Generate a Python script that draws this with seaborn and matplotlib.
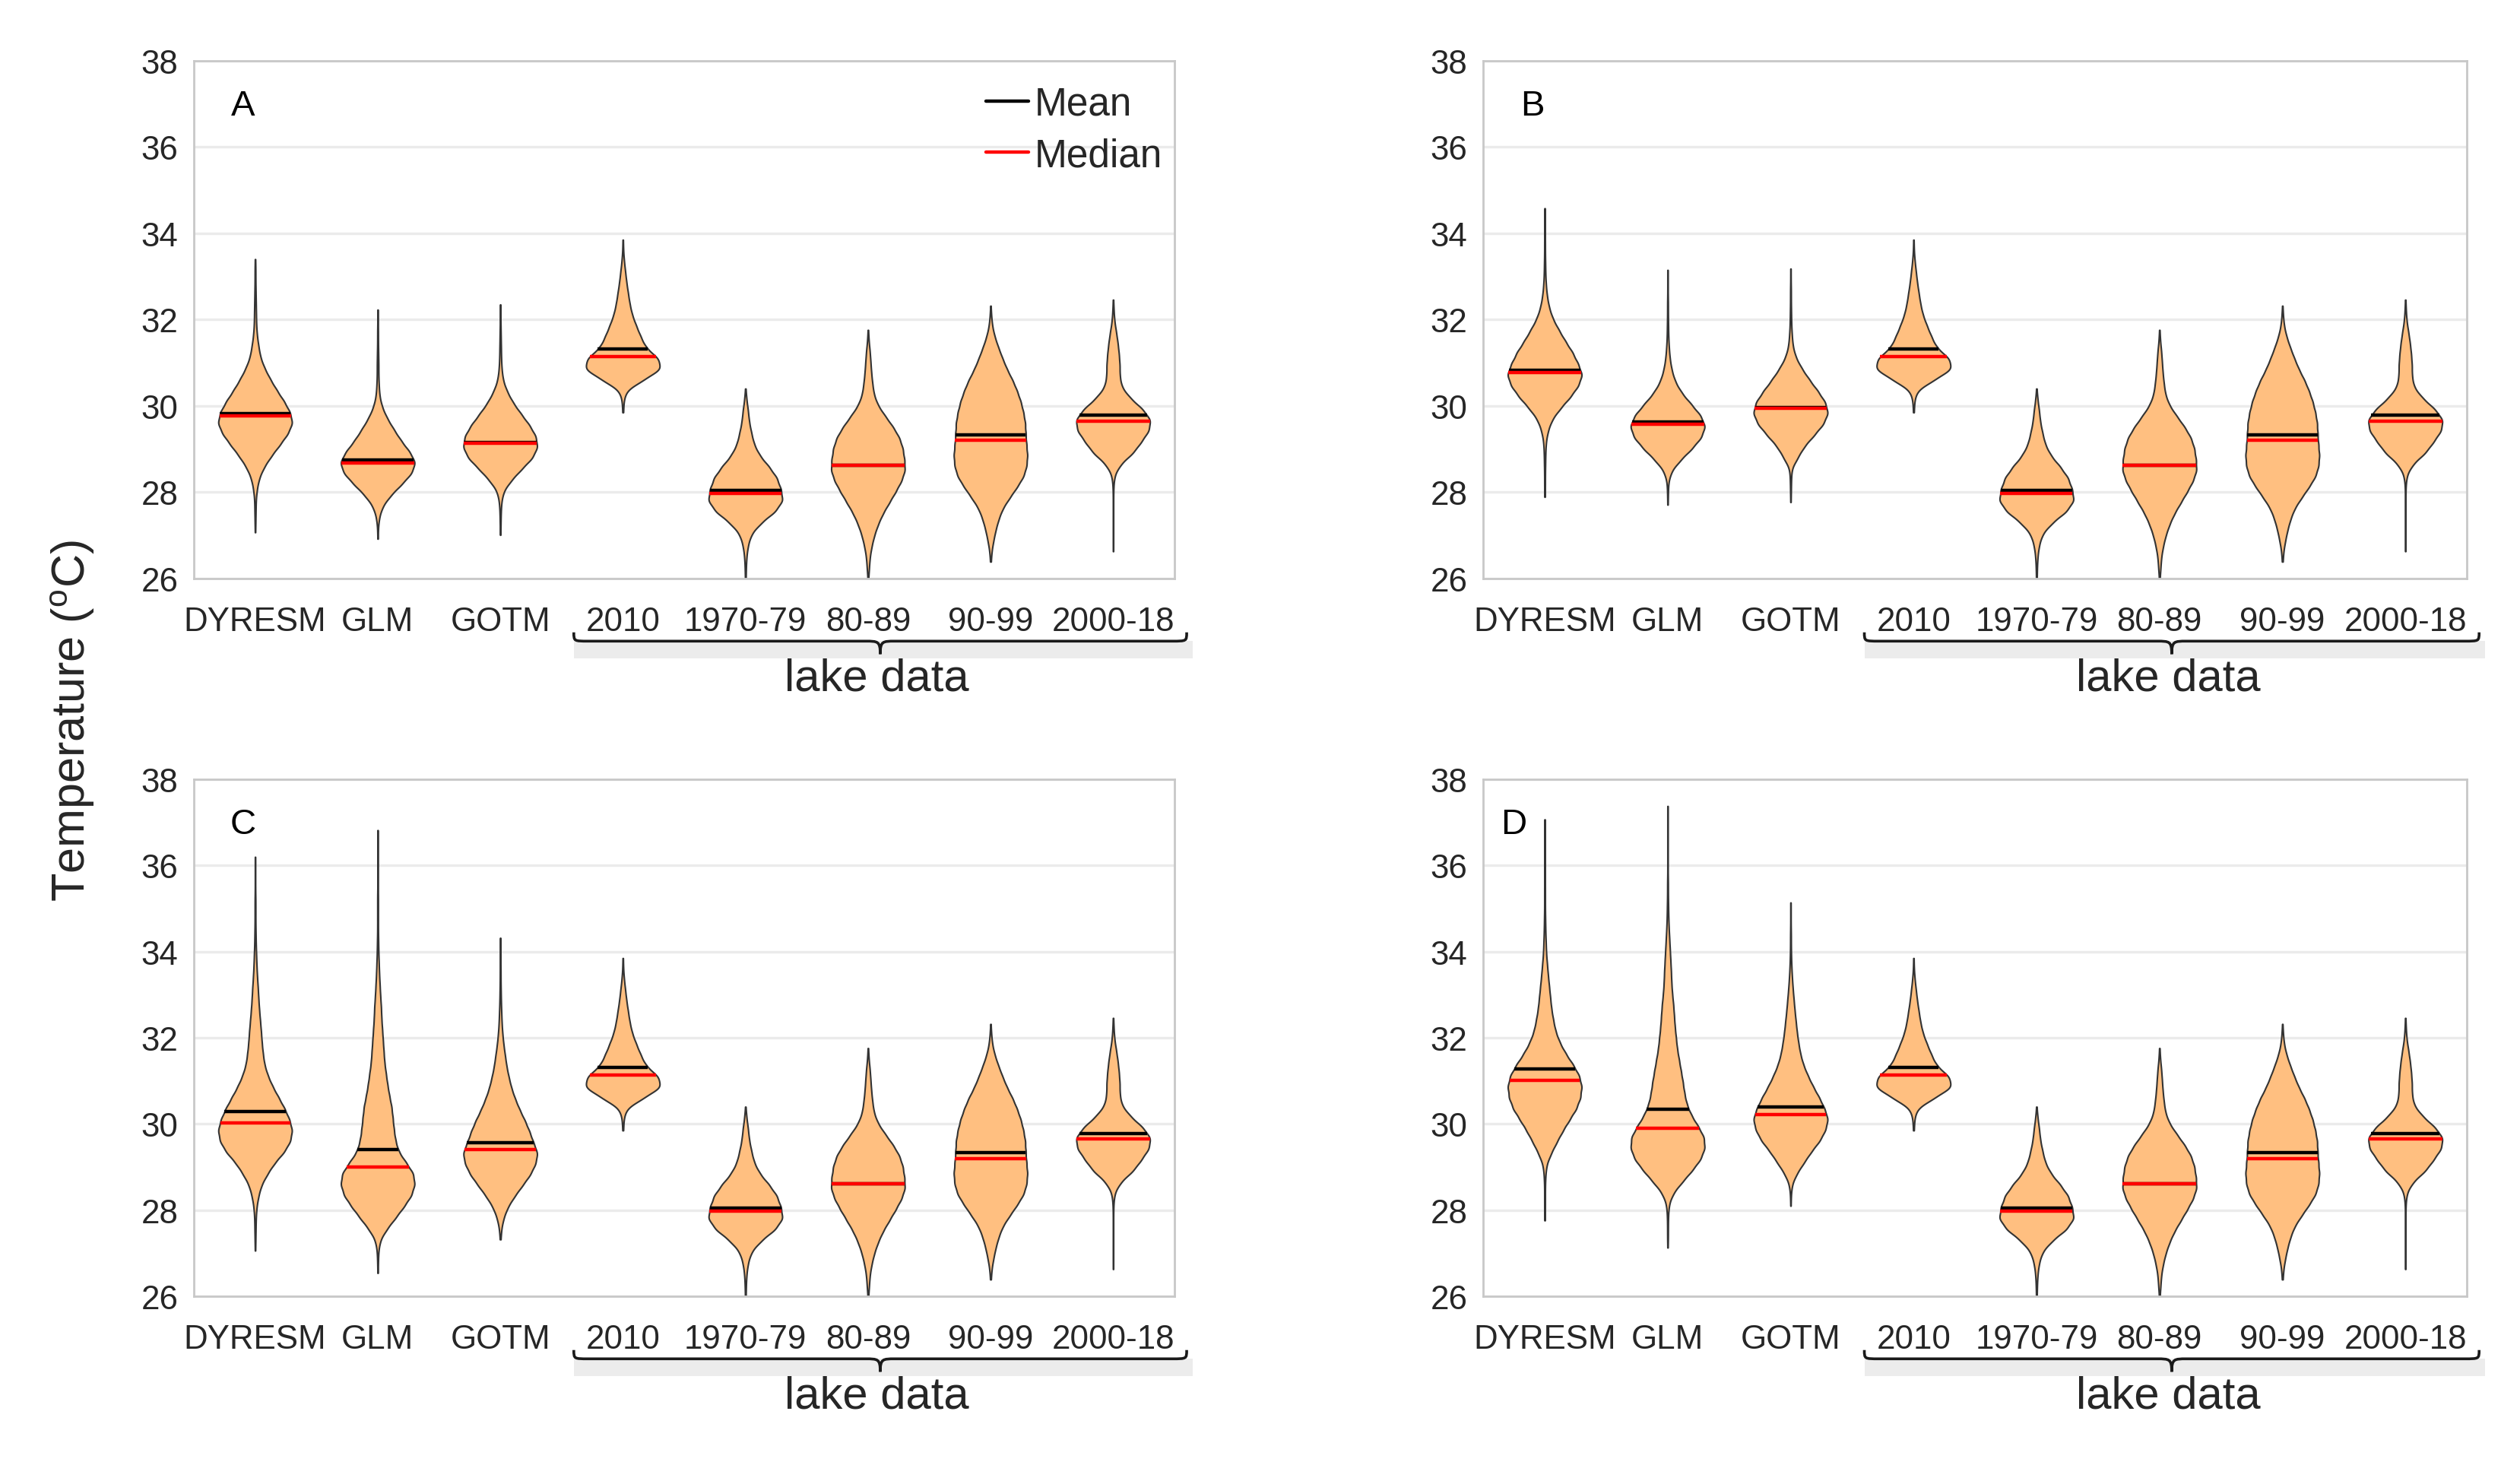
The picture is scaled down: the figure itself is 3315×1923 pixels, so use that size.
import numpy as np
import pandas as pd
import matplotlib
matplotlib.use("Agg")
import matplotlib.pyplot as plt
import seaborn as sns
from matplotlib.path import Path
from matplotlib.patches import PathPatch, Rectangle
from matplotlib.lines import Line2D
from matplotlib.transforms import blended_transform_factory

# ---------------- data ----------------
categories = ["DYRESM", "GLM", "GOTM", "2010", "1970-79", "80-89", "90-99", "2000-18"]
panel_letters = ["A", "B", "C", "D"]
yticks = [26, 28, 30, 32, 34, 36, 38]

# Each violin: (min, max) of the temperatures and relative frequencies at
# evenly spaced temperature levels between them.
# Lake data (identical in all four panels)
lake_ranges = [(29.85, 33.85), (26.00, 30.40), (26.00, 31.76), (26.39, 32.32), (26.63, 32.46)]
lake_freqs = [
    [2, 4, 16, 100, 190, 176, 112, 88, 66, 46, 34, 26, 18, 12, 6, 2, 1],
    [2, 3, 6, 14, 32, 84, 160, 200, 188, 168, 126, 76, 46, 32, 20, 14, 6, 1],
    [2, 6, 10, 20, 34, 54, 80, 114, 148, 180, 200, 196, 188, 170, 136, 94, 54, 32, 24, 18, 14, 10, 4, 1],
    [2, 6, 16, 28, 44, 66, 104, 144, 180, 196, 200, 194, 190, 188, 178, 164, 144, 120, 90, 66, 44, 24, 10, 4, 1],
    [1, 1, 1, 1, 1, 1, 2, 8, 40, 104, 144, 184, 194, 152, 88, 44, 34, 34, 30, 24, 16, 7, 3, 1],
]
lake_means = [31.32, 28.04, 28.62, 29.33, 29.78]
lake_medians = [31.14, 27.98, 28.62, 29.20, 29.65]

# Panel A models: DYRESM, GLM, GOTM
A_ranges = [(27.07, 33.40), (26.92, 32.23), (27.01, 32.35)]
A_freqs = [
    [1, 2, 3, 4, 10, 22, 48, 86, 130, 172, 198, 184, 152, 114, 80, 50, 28, 18, 10, 6, 5, 4, 3, 2, 2, 1],
    [1, 2, 8, 26, 68, 124, 176, 196, 164, 120, 84, 50, 24, 10, 6, 4, 4, 3, 2, 2, 1, 1],
    [1, 2, 3, 6, 18, 60, 114, 172, 200, 190, 156, 112, 70, 38, 16, 8, 5, 4, 3, 2, 1, 1],
]
A_means = [29.82, 28.75, 29.16]
A_medians = [29.76, 28.67, 29.14]

# Panel B models
B_ranges = [(27.89, 34.58), (27.71, 33.15), (27.77, 33.18)]
B_freqs = [
    [1, 2, 2, 3, 4, 7, 18, 40, 84, 136, 178, 200, 176, 148, 110, 76, 44, 24, 13, 7, 4, 3, 2, 2, 1, 1, 1],
    [1, 2, 4, 20, 68, 128, 178, 200, 174, 124, 74, 40, 22, 12, 7, 4, 3, 2, 2, 1, 1, 1],
    [1, 2, 3, 6, 38, 72, 124, 174, 200, 184, 144, 100, 60, 28, 12, 7, 4, 3, 2, 2, 1, 1],
]
B_means = [30.83, 29.62, 29.97]
B_medians = [30.78, 29.57, 29.94]

# Panel C models
C_ranges = [(27.06, 36.20), (26.54, 36.82), (27.32, 34.32)]
C_freqs = [
    [1, 2, 3, 4, 8, 18, 34, 66, 104, 156, 190, 200, 184, 158, 126, 94, 68, 50, 42, 36, 32, 27, 22, 18,
     15, 11, 8, 6, 4, 3, 2, 2, 2, 1, 1, 1, 1],
    [1, 2, 4, 14, 50, 96, 140, 180, 198, 190, 150, 110, 94, 86, 80, 74, 62, 52, 44, 36, 32, 28, 24, 20,
     18, 14, 11, 8, 6, 4, 3, 2, 2, 2, 2, 1, 1, 1, 1, 1, 1],
    [2, 6, 18, 40, 76, 118, 160, 188, 200, 176, 156, 132, 104, 80, 60, 46, 34, 26, 18, 12, 8, 6, 4, 3,
     2, 2, 1, 1, 1],
]
C_means = [30.29, 29.41, 29.56]
C_medians = [30.03, 29.00, 29.41]

# Panel D models
D_ranges = [(27.76, 37.07), (27.13, 37.38), (28.10, 35.14)]
D_freqs = [
    [1, 2, 2, 2, 4, 10, 34, 64, 96, 132, 170, 192, 200, 186, 152, 112, 80, 58, 46, 36, 30, 24, 18, 13,
     8, 6, 4, 3, 2, 2, 2, 1, 1, 1, 1, 1, 1],
    [1, 2, 2, 3, 8, 32, 80, 130, 174, 196, 192, 160, 124, 100, 88, 80, 70, 60, 50, 44, 38, 34, 30, 24,
     20, 18, 15, 12, 9, 6, 4, 3, 2, 2, 1, 1, 1, 1, 1, 1, 1],
    [1, 2, 8, 34, 72, 110, 156, 186, 200, 180, 152, 120, 92, 68, 52, 42, 34, 28, 22, 17, 12, 8, 5, 3,
     2, 2, 1, 1, 1],
]
D_means = [31.27, 30.34, 30.40]
D_medians = [31.02, 29.90, 30.22]

panel_ranges = [A_ranges, B_ranges, C_ranges, D_ranges]
panel_freqs = [A_freqs, B_freqs, C_freqs, D_freqs]
panel_means = [A_means, B_means, C_means, D_means]
panel_medians = [A_medians, B_medians, C_medians, D_medians]

# ---------------- style ----------------
FILL = "#FFBF80"
EDGE = "#333333"
TXT = "#262626"
sns.set_style("white")
plt.rcParams["font.family"] = ["Liberation Sans", "DejaVu Sans"]
plt.rcParams["mathtext.fontset"] = "custom"
plt.rcParams["mathtext.rm"] = "Liberation Sans"

BW = 0.14  # kernel bandwidth in degC


def bw_abs(kde):
    return BW / np.std(kde.dataset, ddof=1)


def panel_frame(ranges, freqs):
    parts = []
    for cat, (lo, hi), f in zip(categories, ranges, freqs):
        levels = np.linspace(lo, hi, len(f))
        parts.append(pd.DataFrame({"group": cat, "temp": np.repeat(levels, f)}))
    return pd.concat(parts, ignore_index=True)


fig = plt.figure(figsize=(16.58, 9.62), dpi=200)
rects = [
    [0.0769, 0.6040, 0.3890, 0.3540],
    [0.5884, 0.6040, 0.3902, 0.3540],
    [0.0769, 0.1133, 0.3890, 0.3534],
    [0.5884, 0.1133, 0.3902, 0.3534],
]
letter_x = [0.05, 0.05, 0.05, 0.031]

for p in range(4):
    ax = fig.add_axes(rects[p])
    ranges = panel_ranges[p] + lake_ranges
    freqs = panel_freqs[p] + lake_freqs
    means = panel_means[p] + lake_means
    medians = panel_medians[p] + lake_medians
    df = panel_frame(ranges, freqs)

    sns.violinplot(data=df, x="group", y="temp", order=categories, color=FILL,
                   saturation=1, inner=None, cut=0, width=0.6, density_norm="width",
                   bw_method=bw_abs, gridsize=300, linewidth=0.75, linecolor=EDGE, ax=ax)

    # mean / median lines spanning the violin width at that level
    for coll in list(ax.collections):
        v = coll.get_paths()[0].vertices
        xc = (v[:, 0].min() + v[:, 0].max()) / 2
        i = int(round(xc))
        right = v[v[:, 0] >= xc - 1e-9]
        order = np.argsort(right[:, 1])
        ys, xs = right[order, 1], right[order, 0]
        for val, col in ((means[i], "black"), (medians[i], "red")):
            hw = np.interp(val, ys, xs) - xc
            ax.plot([xc - hw, xc + hw], [val, val], color=col, lw=1.6,
                    solid_capstyle="butt", zorder=4)

    ax.set_xlim(-0.5, 7.5)
    ax.set_ylim(26, 38)
    ax.set_yticks(yticks)
    ax.set_yticklabels([str(t) for t in yticks])
    ax.set_xticks(range(len(categories)))
    ax.set_xticklabels(categories)
    ax.set_xlabel("")
    ax.set_ylabel("")
    ax.tick_params(axis="both", length=0, labelsize=15.8, labelcolor=TXT)
    ax.tick_params(axis="x", pad=13)
    ax.tick_params(axis="y", pad=7.5)
    ax.yaxis.grid(True, color="#EBEBEB", lw=1.2)
    ax.xaxis.grid(False)
    ax.set_axisbelow(True)
    for s in ax.spines.values():
        s.set_color("#C8C8C8")
        s.set_linewidth(1.0)

    ax.text(letter_x[p], 0.913, panel_letters[p], transform=ax.transAxes, fontsize=17,
            ha="center", va="center", color="black")

    # brace under the lake data
    tr = blended_transform_factory(ax.transData, ax.transAxes)
    x0, x1 = 2.6, 7.6
    xm = (x0 + x1) / 2
    yt, yl, yp = -0.104, -0.121, -0.146
    r = 0.12
    verts = [(x0, yt), (x0, yl), (x0, yl), (x0 + r, yl),
             (xm - r, yl),
             (xm - 0.02, yl), (xm, yl), (xm, yp),
             (xm, yl), (xm + 0.02, yl), (xm + r, yl),
             (x1 - r, yl),
             (x1, yl), (x1, yl), (x1, yt)]
    codes = [Path.MOVETO, Path.CURVE4, Path.CURVE4, Path.CURVE4,
             Path.LINETO,
             Path.CURVE4, Path.CURVE4, Path.CURVE4,
             Path.CURVE4, Path.CURVE4, Path.CURVE4,
             Path.LINETO,
             Path.CURVE4, Path.CURVE4, Path.CURVE4]
    ax.add_patch(Rectangle((x0, yp - 0.008), x1 - x0 + 0.05, yl - yp + 0.008,
                           transform=tr, clip_on=False, facecolor="#ECECEC",
                           edgecolor="none", zorder=1))
    ax.add_patch(PathPatch(Path(verts, codes), transform=tr, clip_on=False,
                           facecolor="none", edgecolor="#1a1a1a", lw=1.3, zorder=2))
    ax.text(xm - 0.03, -0.192, "lake data", transform=tr, fontsize=21.5,
            ha="center", va="center", color=TXT)

    if p == 0:
        handles = [Line2D([], [], color="black", lw=1.6), Line2D([], [], color="red", lw=1.6)]
        ax.legend(handles, ["Mean", "Median"], loc="upper right",
                  bbox_to_anchor=(0.988, 0.952), frameon=False, fontsize=18.5,
                  handlelength=1.1, handletextpad=0.15, labelspacing=0.36,
                  borderaxespad=0, borderpad=0)

fig.text(0.029, 0.507, r"Temperature ($\mathregular{^o}$C)", rotation=90,
         fontsize=22, ha="center", va="center", color=TXT)

fig.savefig("out.png", dpi=200)
